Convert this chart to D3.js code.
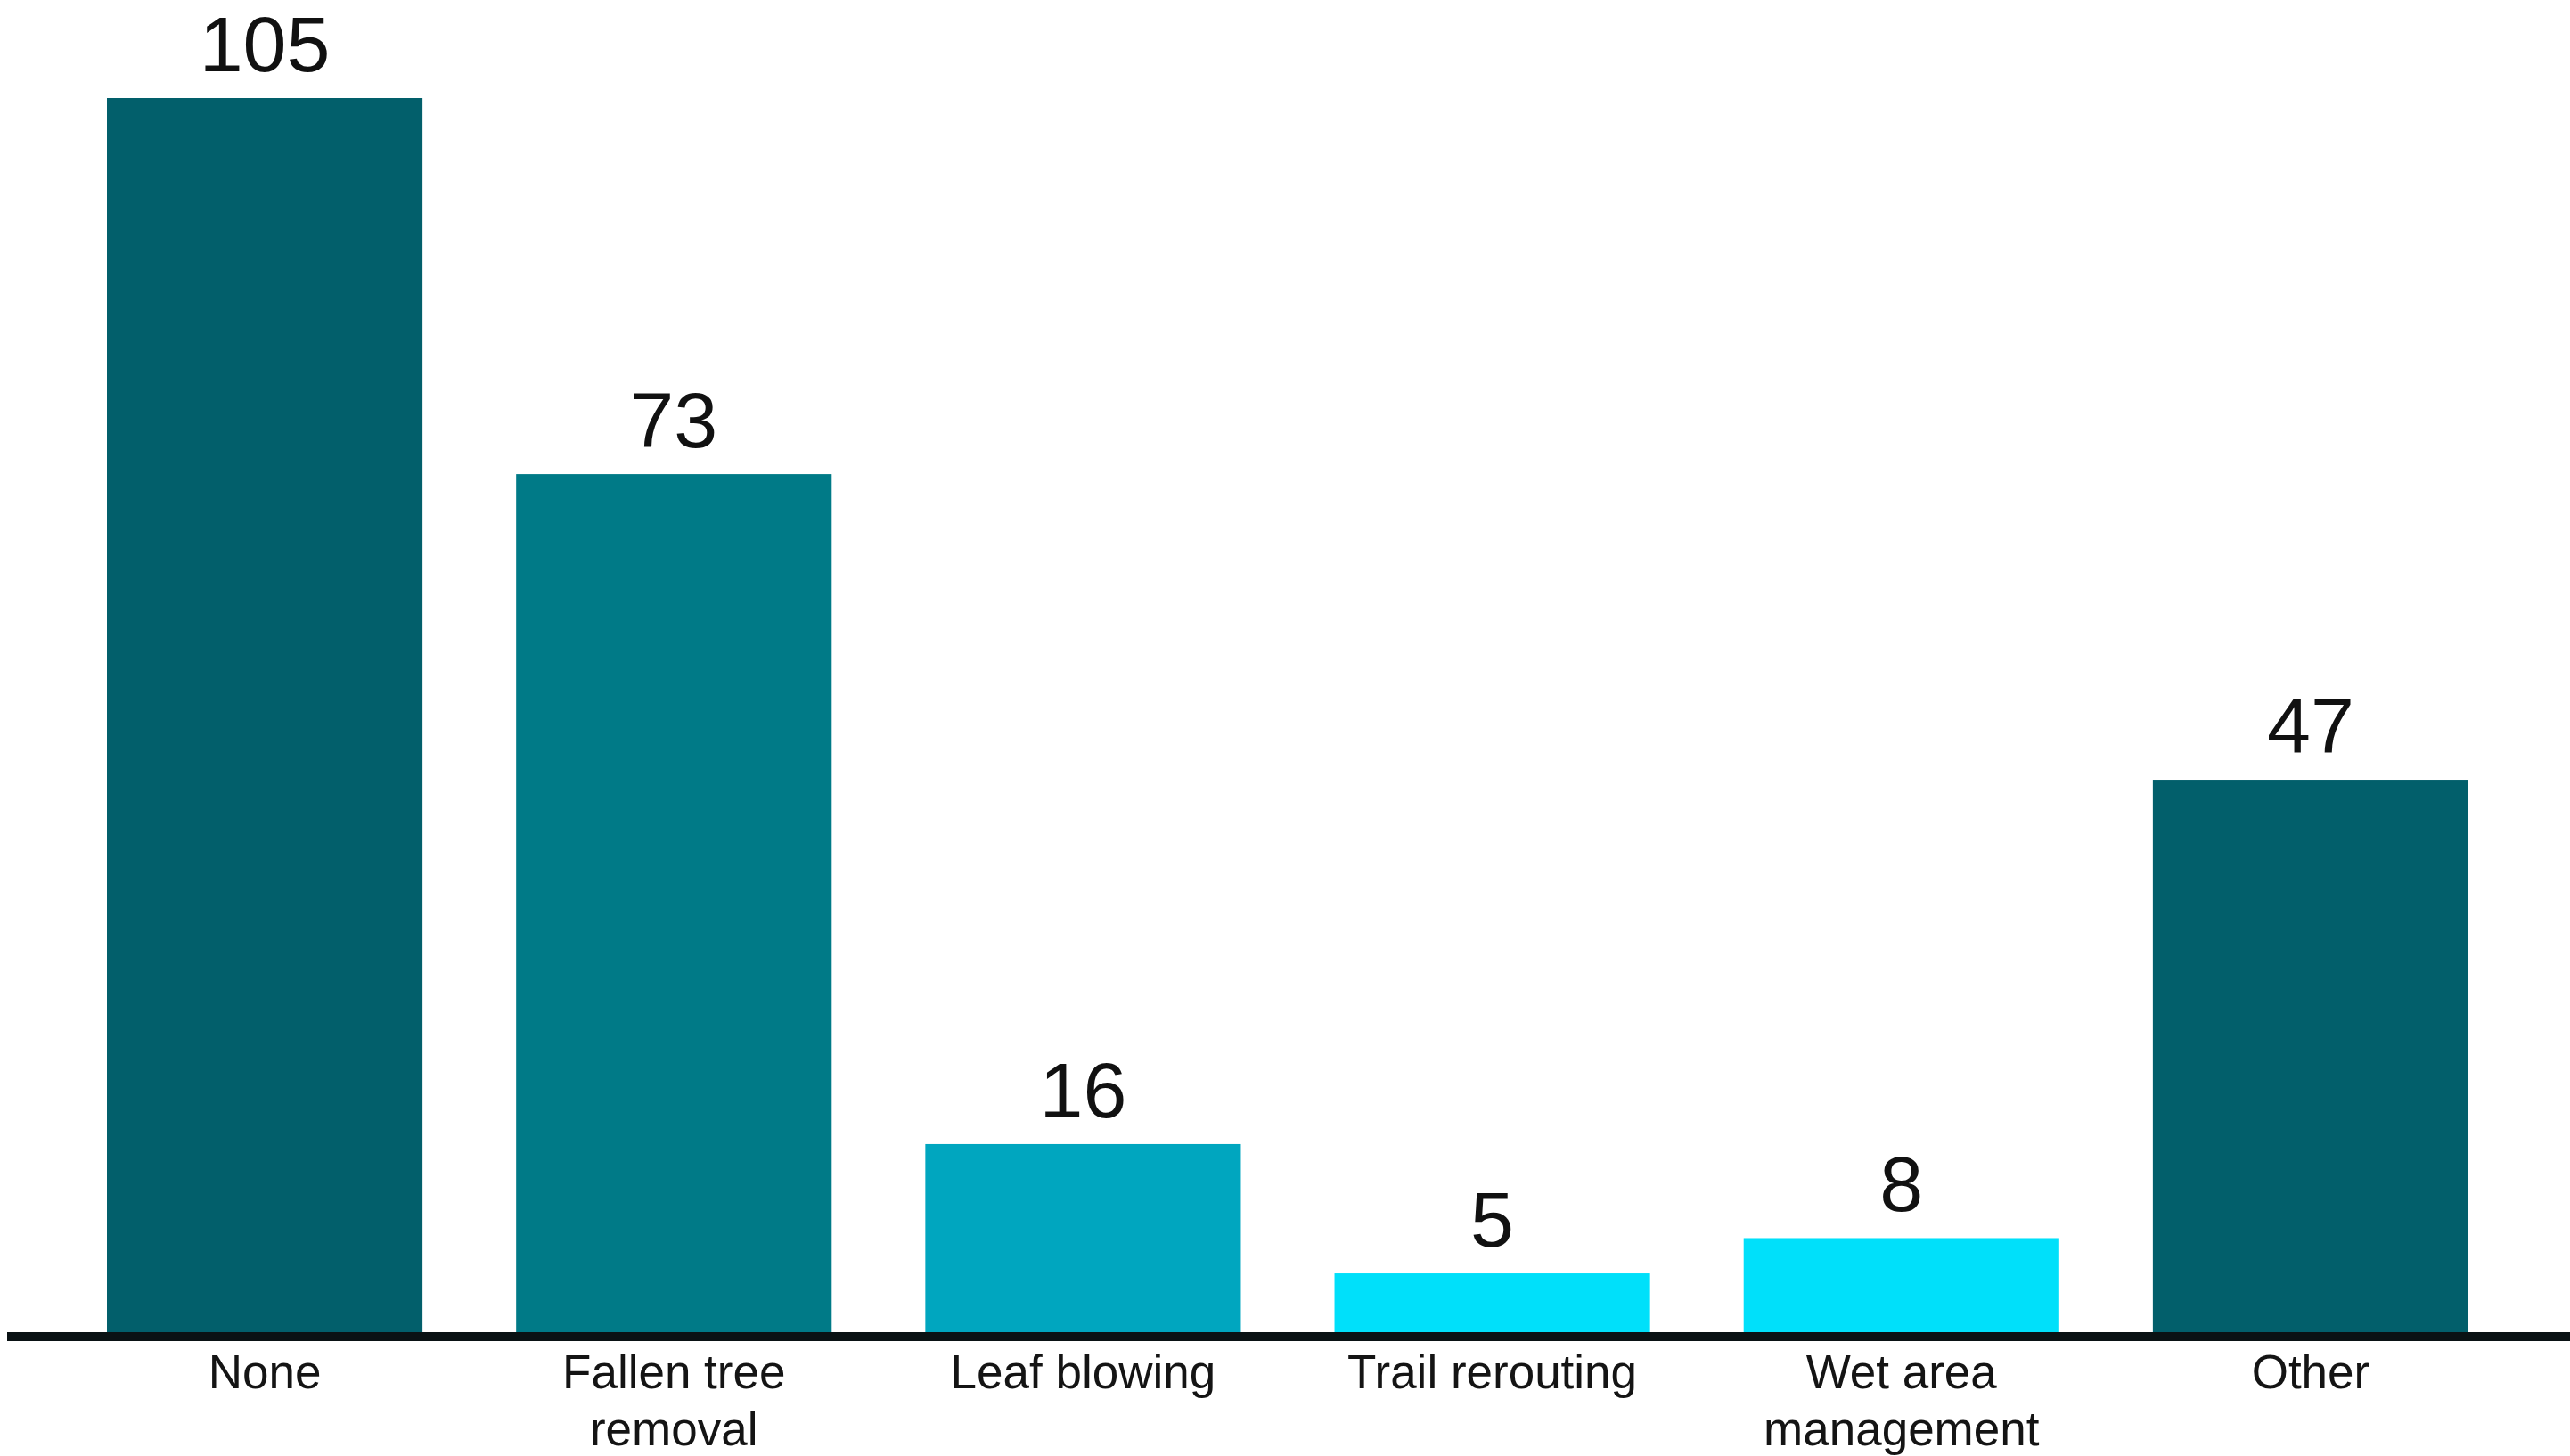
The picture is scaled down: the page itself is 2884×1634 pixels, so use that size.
<!DOCTYPE html>
<html>
<head>
<meta charset="utf-8">
<script src="https://cdn.jsdelivr.net/npm/d3@7"></script>
<style>
  html, body { margin: 0; padding: 0; background: #ffffff; }
  svg { display: block; }
</style>
</head>
<body>
<svg id="chart" width="2884" height="1634"></svg>
<script>
const categories = ["None", "Fallen tree removal", "Leaf blowing", "Trail rerouting", "Wet area management", "Other"];
const categoryLines = [["None"], ["Fallen tree", "removal"], ["Leaf blowing"], ["Trail rerouting"], ["Wet area", "management"], ["Other"]];
const values = [105, 73, 16, 5, 8, 47];
const barColors = ["#025f6b", "#007a87", "#00a6bf", "#00e0fa", "#00e0fa", "#025f6b"];

const svg = d3.select("#chart");
const W = 2884, H = 1634;
const baseline = 1495;

const x = d3.scaleBand()
  .domain(categories)
  .range([120, 2770])
  .paddingInner(0.2288)
  .paddingOuter(0);

const y = d3.scaleLinear()
  .domain([0, 105])
  .range([baseline, 110]);

const data = categories.map((c, i) => ({ c, v: values[i], color: barColors[i], lines: categoryLines[i] }));

svg.append("g").selectAll("rect")
  .data(data)
  .join("rect")
  .attr("x", d => x(d.c))
  .attr("y", d => y(d.v))
  .attr("width", x.bandwidth())
  .attr("height", d => y(0) - y(d.v))
  .attr("fill", d => d.color);

// value labels
svg.append("g").selectAll("text")
  .data(data)
  .join("text")
  .attr("x", d => x(d.c) + x.bandwidth() / 2)
  .attr("y", d => y(d.v) - 30)
  .attr("text-anchor", "middle")
  .attr("font-family", "'Liberation Sans', Arial, sans-serif")
  .attr("font-size", 88)
  .attr("fill", "#111111")
  .text(d => d.v);

// axis line
const xAxis = d3.axisBottom(x).tickSize(0).tickFormat("");
const axisG = svg.append("g")
  .attr("transform", `translate(0,${baseline + 5})`)
  .call(xAxis);
axisG.select(".domain").remove();
axisG.append("line")
  .attr("x1", 8).attr("x2", W)
  .attr("y1", 0).attr("y2", 0)
  .attr("stroke", "#0a1214")
  .attr("stroke-width", 10);

// category labels
const lbl = svg.append("g").selectAll("text")
  .data(data)
  .join("text")
  .attr("x", d => x(d.c) + x.bandwidth() / 2)
  .attr("y", 1558)
  .attr("text-anchor", "middle")
  .attr("font-family", "'Liberation Sans', Arial, sans-serif")
  .attr("font-size", 53)
  .attr("fill", "#141414");
lbl.each(function(d) {
  const t = d3.select(this);
  d.lines.forEach((l, i) => {
    t.append("tspan")
      .attr("x", x(d.c) + x.bandwidth() / 2)
      .attr("dy", i === 0 ? 0 : 64)
      .text(l);
  });
});
</script>
</body>
</html>
